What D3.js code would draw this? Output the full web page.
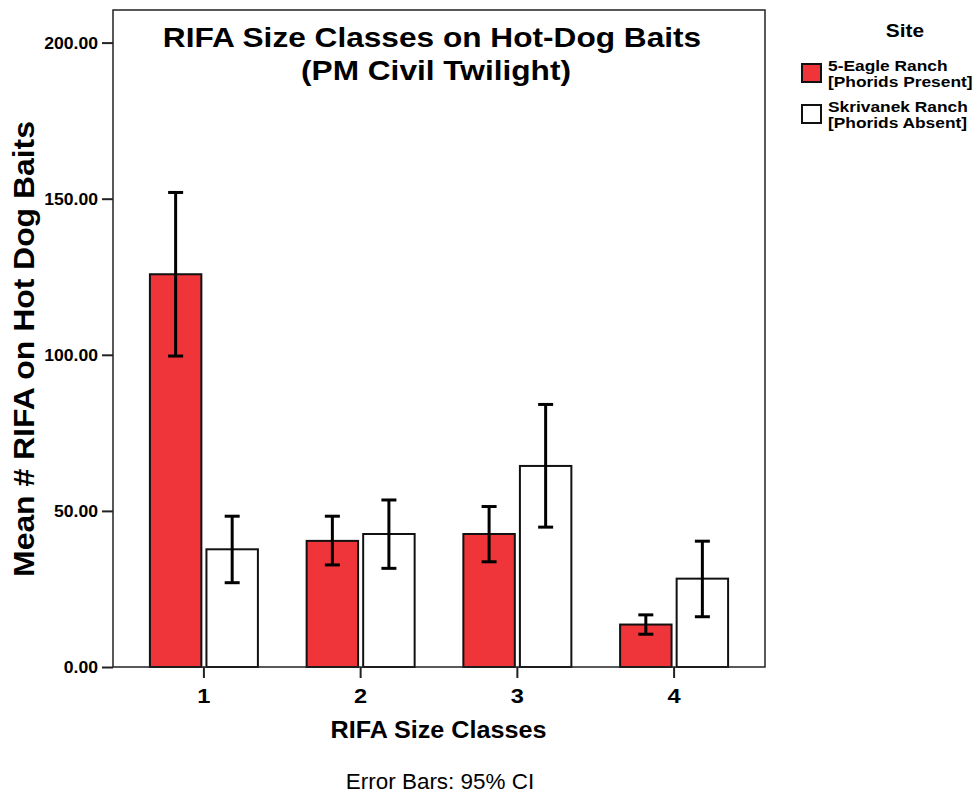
<!DOCTYPE html>
<html>
<head>
<meta charset="utf-8">
<script src="https://cdn.jsdelivr.net/npm/d3@7"></script>
<style>
  body { margin: 0; background: #fff; }
  svg { display: block; font-family: Arial, "Liberation Sans", sans-serif; }
</style>
</head>
<body>
<svg id="chart" width="979" height="794"></svg>
<script>
// RIFA size classes on the x axis
const sizeClasses = ["1", "2", "3", "4"];
// Sites (legend entries)
const sites = ["5-Eagle Ranch [Phorids Present]", "Skrivanek Ranch [Phorids Absent]"];
const siteLines = [["5-Eagle Ranch", "[Phorids Present]"], ["Skrivanek Ranch", "[Phorids Absent]"]];
const siteColors = ["#ef343a", "#ffffff"];
// Mean counts per size class, one array per site
const eagleMean = [125.8, 40.4, 42.6, 13.6];
const skrivanekMean = [37.7, 42.6, 64.4, 28.3];
// 95% CI bounds
const eagleLow = [99.6, 32.7, 33.7, 10.5];
const eagleHigh = [152.0, 48.3, 51.4, 16.7];
const skrivanekLow = [27.0, 31.6, 44.8, 16.1];
const skrivanekHigh = [48.3, 53.5, 84.1, 40.3];
// Y axis ticks
const yTicks = [0, 50, 100, 150, 200];

const svg = d3.select("#chart");
const plot = { left: 113, right: 765, top: 10, bottom: 667 };

const x = d3.scaleBand().domain(sizeClasses)
  .range([plot.left, plot.right]).paddingInner(0).paddingOuter(0.08);
const xSite = d3.scaleBand().domain(sites)
  .range([-54, 54]).paddingInner(0.09).paddingOuter(0);
const y = d3.scaleLinear().domain([0, 200]).range([plot.bottom, 42.6]);

// Places a text at (px, py), widened horizontally by sx
function wideText(parent, px, py, sx, str) {
  return parent.append("text")
    .attr("transform", `translate(${px},${py}) scale(${sx},1)`)
    .text(str);
}

const rows = [];
sizeClasses.forEach((c, i) => {
  rows.push({ c, s: sites[0], k: 0, mean: eagleMean[i], lo: eagleLow[i], hi: eagleHigh[i] });
  rows.push({ c, s: sites[1], k: 1, mean: skrivanekMean[i], lo: skrivanekLow[i], hi: skrivanekHigh[i] });
});

// Bars
svg.append("g").selectAll("rect").data(rows).join("rect")
  .attr("x", d => x(d.c) + x.bandwidth() / 2 + xSite(d.s))
  .attr("y", d => y(d.mean))
  .attr("width", xSite.bandwidth())
  .attr("height", d => y(0) - y(d.mean))
  .attr("fill", d => siteColors[d.k])
  .attr("stroke", "#111")
  .attr("stroke-width", 2);

// Error bars
const eb = svg.append("g").attr("stroke", "#000").attr("stroke-width", 3);
rows.forEach(d => {
  const cx = x(d.c) + x.bandwidth() / 2 + xSite(d.s) + xSite.bandwidth() / 2;
  eb.append("line").attr("x1", cx).attr("x2", cx).attr("y1", y(d.lo)).attr("y2", y(d.hi));
  eb.append("line").attr("x1", cx - 7.5).attr("x2", cx + 7.5).attr("y1", y(d.lo)).attr("y2", y(d.lo));
  eb.append("line").attr("x1", cx - 7.5).attr("x2", cx + 7.5).attr("y1", y(d.hi)).attr("y2", y(d.hi));
});

// Plot frame
svg.append("rect")
  .attr("x", plot.left).attr("y", plot.top)
  .attr("width", plot.right - plot.left).attr("height", plot.bottom - plot.top)
  .attr("fill", "none").attr("stroke", "#222").attr("stroke-width", 1.5);

// Y axis
const yAxis = svg.append("g").attr("transform", `translate(${plot.left},0)`)
  .call(d3.axisLeft(y).tickValues(yTicks).tickFormat(d3.format(".2f")).tickSize(11).tickPadding(3));
yAxis.select(".domain").remove();
yAxis.selectAll("line").attr("stroke", "#222").attr("stroke-width", 2);
yAxis.selectAll("text")
  .attr("x", null).attr("dy", null)
  .attr("transform", "translate(-15,5.5) scale(1.1,1)")
  .attr("font-size", 16).attr("font-weight", "bold").attr("fill", "#000")
  .attr("font-family", "Arial, 'Liberation Sans', sans-serif");

// X axis
const xAxis = svg.append("g").attr("transform", `translate(0,${plot.bottom})`)
  .call(d3.axisBottom(x).tickSize(11).tickPadding(10));
xAxis.select(".domain").remove();
xAxis.selectAll("line").attr("stroke", "#222").attr("stroke-width", 2);
xAxis.selectAll("text")
  .attr("y", null).attr("dy", null)
  .attr("transform", "translate(0,36) scale(1.18,1)")
  .attr("font-size", 20).attr("font-weight", "bold").attr("fill", "#000")
  .attr("font-family", "Arial, 'Liberation Sans', sans-serif");

// Title
const titleG = svg.append("g").attr("text-anchor", "middle")
  .attr("font-size", 28).attr("font-weight", "bold");
wideText(titleG, 432, 47, 1.13, "RIFA Size Classes on Hot-Dog Baits");
wideText(titleG, 436, 80, 1.13, "(PM Civil Twilight)");

// Axis titles
svg.append("text").attr("text-anchor", "middle")
  .attr("transform", "translate(34,349) rotate(-90) scale(1.1,1)")
  .attr("font-size", 29).attr("font-weight", "bold")
  .text("Mean # RIFA on Hot Dog Baits");
wideText(svg, 438.5, 738, 1.095, "RIFA Size Classes")
  .attr("text-anchor", "middle").attr("font-size", 23).attr("font-weight", "bold");
wideText(svg, 440, 789, 1.02, "Error Bars: 95% CI")
  .attr("text-anchor", "middle").attr("font-size", 22);

// Legend
const legend = svg.append("g");
wideText(legend, 905, 37, 1.13, "Site")
  .attr("text-anchor", "middle").attr("font-size", 18.5).attr("font-weight", "bold");
sites.forEach((s, i) => {
  const top = 64 + i * 41;
  legend.append("rect").attr("x", 802).attr("y", top).attr("width", 19).attr("height", 18)
    .attr("fill", siteColors[i]).attr("stroke", "#111").attr("stroke-width", 2);
  siteLines[i].forEach((line, j) => {
    wideText(legend, 828, top + 7 + j * 15.5, 1.12, line)
      .attr("font-size", 15.5).attr("font-weight", "bold");
  });
});
</script>
</body>
</html>
